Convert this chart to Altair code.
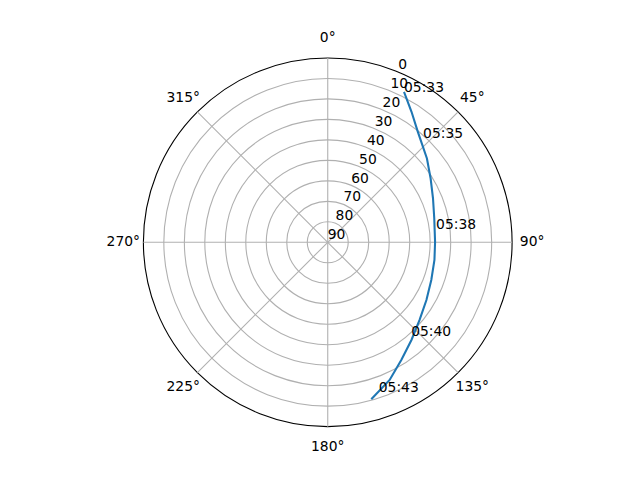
import math
import altair as alt
import pandas as pd

# Satellite track (azimuth in degrees clockwise from north, elevation in degrees)
track_az = [26.9, 32.7, 39.2, 49.8, 58.2, 67.3, 77.3, 89.8, 99.4, 110.0, 120.3, 130.2, 139.4, 147.9, 155.8, 164.5]
track_el = [7.7, 14.3, 20.4, 26.6, 30.9, 34.3, 36.7, 37.6, 37.2, 36.2, 34.2, 31.3, 27.2, 22.3, 16.3, 10.5]

# Time annotations along the track
label_times = ["05:33", "05:35", "05:38", "05:40", "05:43"]
label_az = [26.9, 42.4, 83.0, 138.3, 161.2]
label_el = [7.7, 21.0, 36.7, 28.8, 12.7]

# Grid definitions
ring_r = [10, 20, 30, 40, 50, 60, 70, 80, 90]
spoke_deg = [0, 45, 90, 135, 180, 225, 270, 315]
r_tick_labels = [0, 10, 20, 30, 40, 50, 60, 70, 80, 90]

FONT = "DejaVu Sans"
FS = 13.9
GRID = "#b0b0b0"
W = 369
RPX = W / 2

xs = alt.Scale(domain=[-90, 90], nice=False, zero=False)
ys = alt.Scale(domain=[-90, 90], nice=False, zero=False)

track_df = pd.DataFrame({"i": list(range(len(track_az))), "az": track_az, "el": track_el})
lab_df = pd.DataFrame({"t": label_times, "az": label_az, "el": label_el})
ring_df = pd.DataFrame({"r": ring_r})
spoke_df = pd.DataFrame({"a": spoke_deg, "zero": [0] * len(spoke_deg)})
rt_df = pd.DataFrame({"v": r_tick_labels})
th_df = pd.DataFrame({"a": spoke_deg})


def X(f):
    return alt.X(f, type="quantitative", scale=xs, axis=None)


def Y(f):
    return alt.Y(f, type="quantitative", scale=ys, axis=None)


rings = alt.Chart(ring_df).mark_arc(
    theta=0, theta2=2 * math.pi, filled=False, strokeWidth=1.1
).encode(
    radius=alt.Radius("r:Q", stack=None,
                      scale=alt.Scale(type="linear", domain=[0, 90], range=[0, RPX], zero=True)),
    stroke=alt.condition(alt.datum.r == 90, alt.value("black"), alt.value(GRID)),
)

spokes = alt.Chart(spoke_df).transform_calculate(
    x2="90*sin(datum.a*PI/180)", y2="90*cos(datum.a*PI/180)"
).mark_rule(color=GRID, strokeWidth=1.1).encode(
    x=X("zero"), y=Y("zero"), x2="x2:Q", y2="y2:Q"
)

track = alt.Chart(track_df).transform_calculate(
    x="(90-datum.el)*sin(datum.az*PI/180)",
    y="(90-datum.el)*cos(datum.az*PI/180)",
).mark_line(color="#1f77b4", strokeWidth=2.08).encode(
    x=X("x"), y=Y("y"), order=alt.Order("i:Q")
)

tlabels = alt.Chart(lab_df).transform_calculate(
    x="(90-datum.el)*sin(datum.az*PI/180)",
    y="(90-datum.el)*cos(datum.az*PI/180)",
).mark_text(align="left", baseline="alphabetic", font=FONT, fontSize=FS, color="black").encode(
    x=X("x"), y=Y("y"), text="t:N"
)

rlabels = alt.Chart(rt_df).transform_calculate(
    x="(90-datum.v)*sin(22.5*PI/180)",
    y="(90-datum.v)*cos(22.5*PI/180)",
).mark_text(align="left", baseline="alphabetic", dy=-3, font=FONT, fontSize=FS, color="black").encode(
    x=X("x"), y=Y("y"), text="v:N"
)

thlabels = alt.Chart(th_df).transform_calculate(
    x="99.8*sin(datum.a*PI/180)",
    y="99.8*cos(datum.a*PI/180)",
    lab="datum.a + '°'",
).mark_text(align="center", baseline="middle", font=FONT, fontSize=FS, color="black").encode(
    x=X("x"), y=Y("y"), text="lab:N"
)

chart = alt.layer(rings, spokes, track, tlabels, rlabels, thlabels).properties(
    width=W, height=W,
    autosize=alt.AutoSizeParams(type="none"),
    padding={"left": 135.5, "top": 49.8, "right": 120, "bottom": 45},
    background="white",
).configure_view(stroke=None)

chart.save("out.html", embed_options={"renderer": "svg", "actions": False})
